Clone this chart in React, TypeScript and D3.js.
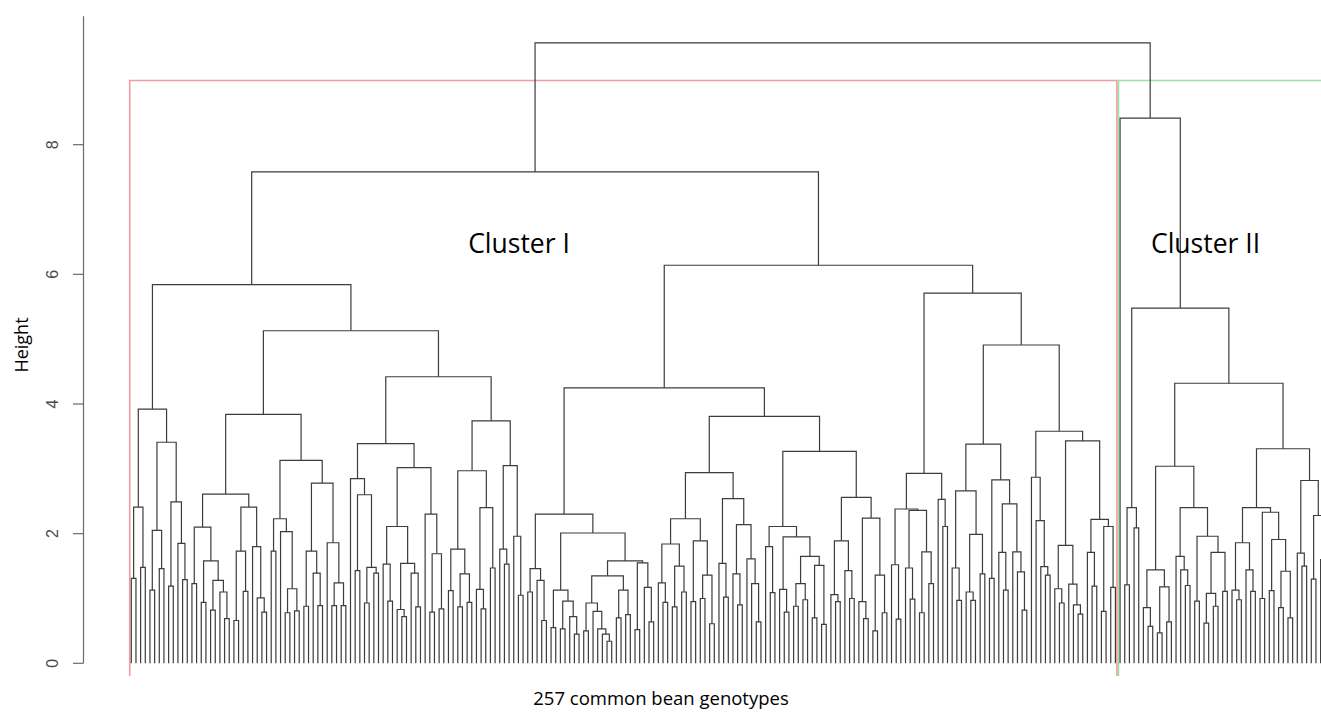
import React, { useRef, useEffect } from 'react';
import * as d3 from 'd3';

// upper merges of the tree; names stand for the subtrees listed below
const topology = '(9.57 (7.58 (5.84 A1 (5.13 A2a (4.42 A2b1 A2b2))) (6.14 (4.25 B1a B1b) (5.71 B2a (4.91 B2b1 B2b2)))) II)';

// subtrees: "(height left right)", "." is one genotype
const subtreeNames = ['A1', 'A2a', 'A2b1', 'A2b2', 'B1a', 'B1b', 'B2a', 'B2b1', 'B2b2', 'II'];
const subtrees = [
  '(3.92 (2.41 (1.31 . .) (1.48 . .)) (3.41 (2.05 (1.13 . .) (1.46 . .)) (2.49 (1.19 . .) (1.85 . (1.29 . .)))))',
  '(3.84 (2.61 (2.10 (1.23 . .) (1.58 (0.94 . .) (1.28 (0.82 . .) (1.10 . (0.69 . .))))) (2.41 (1.73 (0.66 . .) (1.11 . .)) (1.80 . (1.01 . (0.79 . .))))) (3.13 (2.23 (1.73 . .) (2.03 . (1.15 (0.78 . .) (0.81 . .)))) (2.78 (1.73 (0.88 . .) (1.39 . (0.89 . .))) (1.86 . (1.24 (0.89 . .) (0.89 . .))))))',
  '(3.39 (2.85 . (2.60 (1.43 . .) (1.48 (0.93 . .) (1.39 . .)))) (3.02 (2.11 (1.53 . (0.96 . .)) (1.54 (0.83 . (0.72 . .)) (1.39 . (0.87 . .)))) (2.30 . (1.69 (0.79 . .) (0.84 . .)))))',
  '(3.74 (2.97 (1.76 (1.12 . .) (1.38 (0.87 . .) (0.94 . .))) (2.40 (1.14 . (0.84 . .)) (1.47 . .))) (3.05 (1.76 . (1.53 . .)) (1.96 . (1.05 . .))))',
  '(2.30 (1.46 (1.10 . .) (1.28 . (0.66 . .))) (2.01 (1.13 (0.55 . .) (0.96 (0.53 . .) (0.72 . (0.45 . .)))) (1.58 (1.35 (0.93 (0.50 . .) (0.80 . (0.53 . (0.45 . (0.34 . .))))) (1.13 (0.70 . .) (0.75 . .))) (1.55 (0.52 . .) (1.17 . (0.64 . .))))))',
  '(3.81 (2.94 (2.23 (1.84 (1.24 . (0.94 . .)) (1.50 (0.87 . .) (1.10 . .))) (1.89 (0.95 . .) (1.36 (1.00 . .) (0.61 . .)))) (2.54 (1.54 . (1.02 . .)) (2.14 (1.38 . (0.90 . .)) (1.61 . (1.23 . (0.64 . .)))))) (3.27 (2.11 (1.80 . (1.09 . .)) (1.95 (1.14 . (0.79 . .)) (1.65 (1.23 (0.88 . .) (0.98 . .)) (1.51 (0.70 . .) (0.60 . .))))) (2.56 (1.89 (1.06 . (0.95 . .)) (1.43 . (1.00 . .))) (2.24 (0.95 . (0.69 . .)) (1.36 (0.50 . .) (0.78 . .))))))',
  '(2.93 (2.38 (1.52 . (0.68 . .)) (2.36 (1.47 . (0.99 . .)) (1.72 (0.78 . .) (1.23 . .)))) (2.53 . (2.11 . .)))',
  '(3.38 (2.66 (1.47 . (0.97 . .)) (1.99 (1.10 . (0.97 . .)) (1.38 . .))) (2.83 (1.31 . .) (2.46 (1.71 . (1.13 . .)) (1.72 . (1.41 . (0.82 . .))))))',
  '(3.58 (2.87 . (2.20 . (1.49 . (1.36 . .)))) (3.43 (1.82 (1.15 . (0.93 . .)) (1.22 . (0.90 . (0.76 . .)))) (2.22 (1.71 . (1.19 . .)) (2.11 (0.80 . .) (1.17 . .)))))',
  '(8.41 . (5.48 (2.40 (1.21 . .) (2.09 . .)) (4.32 (3.04 (1.44 (0.86 . (0.57 . .)) (1.18 (0.47 . .) (0.64 . .))) (2.40 (1.65 . (1.44 . (1.20 . .))) (1.96 (0.96 . .) (1.71 (1.08 (0.62 . .) (0.88 . .)) (1.11 . .))))) (3.31 (2.40 (1.86 (1.13 . (0.98 . .)) (1.44 . (1.11 . .))) (2.33 (1.00 . .) (1.91 (1.12 . .) (1.42 (0.86 . .) (0.70 . .))))) (2.82 (1.70 . (1.50 . .)) (2.28 (1.30 . .) (1.60 . .)))))))',
];

const clusterSizes = [212, 45]; // genotypes in Cluster I and Cluster II
const clusterLabels = ['Cluster I', 'Cluster II'];
const clusterColors = ['#f09aa4', '#9ee09e'];
const yTicks = [0, 2, 4, 6, 8];

type TreeNode = { h: number; children?: TreeNode[] };

function parseTree(str: string, lookup: Record<string, TreeNode>): TreeNode {
  const tokens = str.match(/\(|\)|[^\s()]+/g) || [];
  let i = 0;
  const read = (): TreeNode => {
    const t = tokens[i++];
    if (t === '(') {
      const h = +tokens[i++];
      const a = read();
      const b = read();
      i++; // closing bracket
      return { h, children: [a, b] };
    }
    if (t === '.') return { h: 0 };
    return lookup[t];
  };
  return read();
}

const Dendrogram = ({ width = 1321, height = 714 }) => {
  const svgRef = useRef<SVGSVGElement>(null);

  useEffect(() => {
    const lookup: Record<string, TreeNode> = {};
    subtreeNames.forEach((name, k) => { lookup[name] = parseTree(subtrees[k], {}); });
    const tree = parseTree(topology, lookup);

    const root = d3.hierarchy<TreeNode>(tree);
    const leaves = root.leaves();
    const pos = new Map<any, number>();
    leaves.forEach((d, k) => pos.set(d, k));
    root.eachAfter(d => {
      if (d.children) pos.set(d, d3.mean(d.children, c => pos.get(c)) as number);
    });

    const n = leaves.length;
    const x = d3.scaleLinear().domain([0, n - 1]).range([131.3, 131.3 + (n - 1) * 4.664]);
    const y = d3.scaleLinear().domain([0, 8]).range([663.3, 144.7]);

    const svg = d3.select(svgRef.current);
    svg.selectAll('*').remove();

    // rectangles of the two clusters (as rect.hclust draws them)
    const topH = (root.data.h + (root.children![1].data.h)) / 2;
    let start = 0;
    clusterSizes.forEach((size, k) => {
      const x0 = x(start - 0.34);
      const x1 = x(start + size - 1 + 0.33);
      svg.append('path')
        .attr('d', `M${x0},676V${y(topH)}H${x1}V676`)
        .attr('fill', 'none')
        .attr('stroke', clusterColors[k])
        .attr('stroke-width', 1.6);
      start += size;
    });

    // dendrogram branches
    svg.append('g')
      .selectAll('path')
      .data(root.descendants().filter(d => d.children))
      .join('path')
      .attr('d', d => {
        const [a, b] = d.children!;
        return `M${x(pos.get(a)!)},${y(a.data.h)}V${y(d.data.h)}H${x(pos.get(b)!)}V${y(b.data.h)}`;
      })
      .attr('fill', 'none')
      .attr('stroke', '#3c3c3c')
      .attr('stroke-width', 1.2);

    // y axis
    const ax = svg.append('g').attr('transform', 'translate(83.5,0)');
    ax.append('line')
      .attr('y1', y(0)).attr('y2', y(9.98))
      .attr('stroke', '#6a6a6a').attr('stroke-width', 1.2);
    ax.selectAll('.tick')
      .data(yTicks)
      .join('g')
      .attr('transform', d => `translate(0,${y(d)})`)
      .each(function () {
        const g = d3.select(this);
        g.append('line').attr('x1', -10.5).attr('x2', 0).attr('stroke', '#6a6a6a').attr('stroke-width', 1.2);
        g.append('text')
          .attr('transform', 'translate(-25.5,0) rotate(-90)')
          .attr('text-anchor', 'middle')
          .attr('font-family', 'Liberation Sans, Arial, sans-serif')
          .attr('font-size', 16)
          .attr('fill', '#4a4a4a')
          .text(d => d);
      });

    const labelFont = '"Open Sans", Lato, sans-serif';
    svg.append('text')
      .attr('transform', 'translate(28,345) rotate(-90)')
      .attr('text-anchor', 'middle')
      .attr('font-family', labelFont)
      .attr('font-size', 18)
      .attr('fill', '#000')
      .text('Height');

    svg.append('text')
      .attr('x', 661).attr('y', 705)
      .attr('text-anchor', 'middle')
      .attr('font-family', labelFont)
      .attr('font-size', 18.5)
      .attr('fill', '#000')
      .text(`${n} common bean genotypes`);

    const labelX = [519, 1205.5];
    clusterLabels.forEach((t, k) => {
      svg.append('text')
        .attr('x', labelX[k]).attr('y', 252.5)
        .attr('text-anchor', 'middle')
        .attr('font-family', labelFont)
        .attr('font-size', 26.5)
        .attr('fill', '#000')
        .text(t);
    });
  }, [width, height]);

  return (
    <svg
      ref={svgRef}
      width={width}
      height={height}
      style={{ position: 'absolute', left: 0, top: 0, background: '#fff', overflow: 'hidden' }}
    />
  );
};

export default function App() {
  return <Dendrogram />;
}
